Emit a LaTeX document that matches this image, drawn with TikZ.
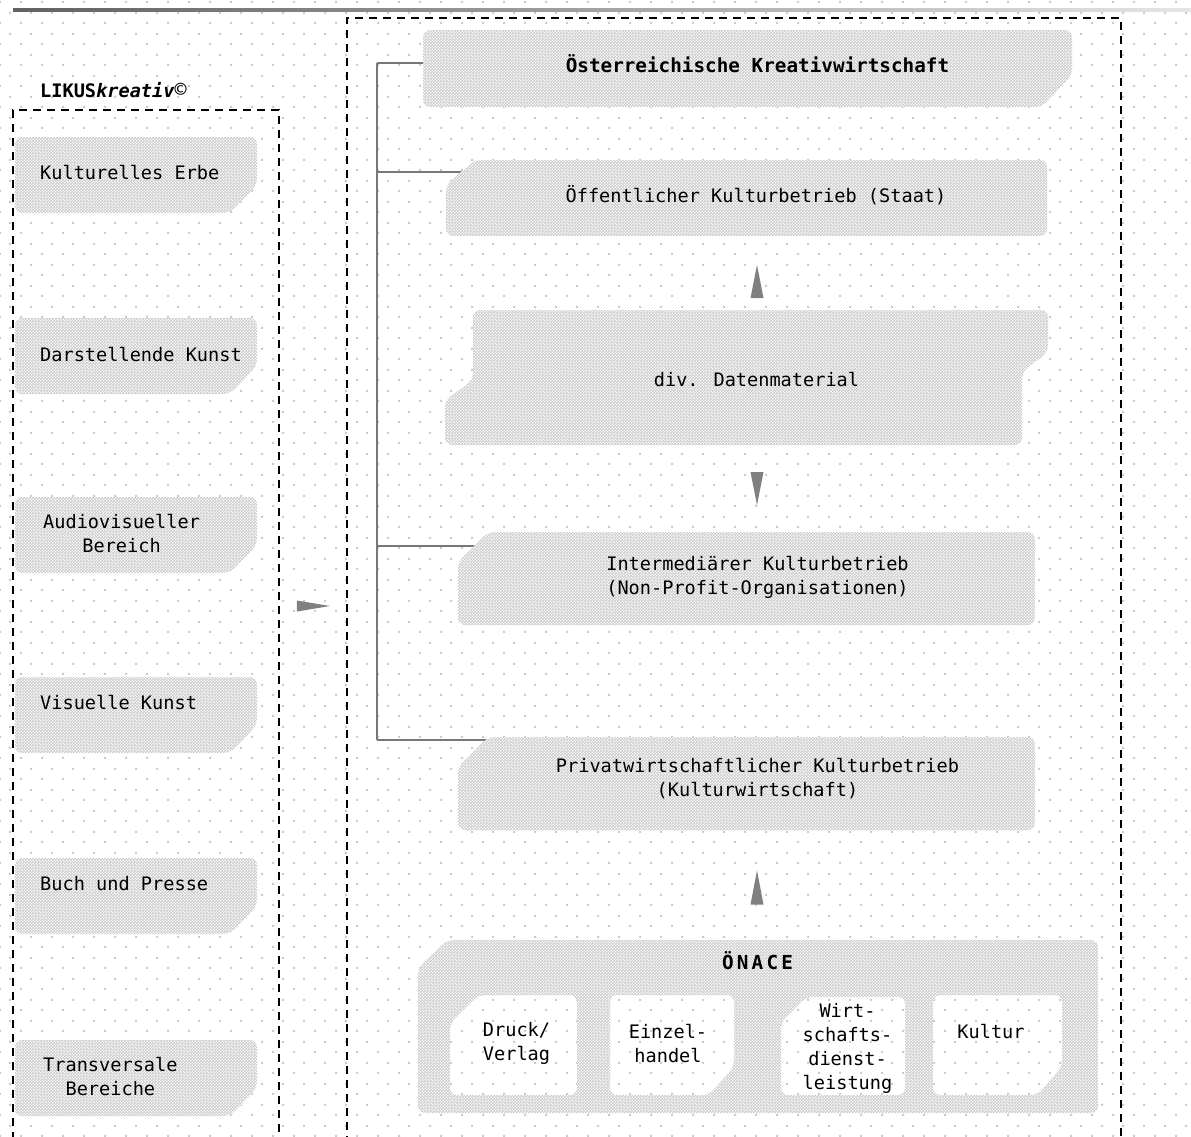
\documentclass[tikz,border=0pt]{standalone}
\usepackage{fontspec}
\setmainfont{DejaVu Sans Mono}[BoldFont={DejaVu Sans Mono Bold},ItalicFont={DejaVu Sans Mono Oblique},BoldItalicFont={DejaVu Sans Mono Bold Oblique}]
\usetikzlibrary{patterns,calc}
\pgfdeclarepatternformonly{bgdots}{\pgfqpoint{0pt}{0pt}}{\pgfqpoint{21pt}{21.2pt}}{\pgfqpoint{21pt}{21.2pt}}{%
 \pgfpathrectangle{\pgfqpoint{0pt}{0pt}}{\pgfqpoint{2.1pt}{2.1pt}}%
 \pgfpathrectangle{\pgfqpoint{10.5pt}{10.6pt}}{\pgfqpoint{2.1pt}{2.1pt}}%
 \pgfusepath{fill}}
\pgfdeclarepatternformonly{stipple}{\pgfqpoint{0pt}{0pt}}{\pgfqpoint{3.4pt}{3.4pt}}{\pgfqpoint{3.4pt}{3.4pt}}{%
 \pgfpathrectangle{\pgfqpoint{0pt}{0pt}}{\pgfqpoint{1.8pt}{1.8pt}}%
 \pgfpathrectangle{\pgfqpoint{1.7pt}{1.7pt}}{\pgfqpoint{1.7pt}{1.7pt}}%
 \pgfusepath{fill}}
\definecolor{dotc}{gray}{0.80}
\definecolor{stipc}{gray}{0.80}
\definecolor{arrc}{gray}{0.50}
\definecolor{linec}{gray}{0.47}
\begin{document}
\begin{tikzpicture}[x=1pt,y=-1pt,font=\fontsize{18.6}{24}\selectfont,
  boxn/.style={rectangle,inner sep=0pt,outer sep=0pt,draw=none},
  stip/.style={fill=white,postaction={pattern=stipple,pattern color=stipc},rounded corners=7pt},
  dashbox/.style={rectangle,draw=black,line width=1.3pt,dash pattern=on 8pt off 6pt,inner sep=0pt,outer sep=0pt},
  lbl/.style={inner sep=0pt,align=center},
  hdr/.style={inner sep=0pt,align=center,font=\fontsize{19.3}{24}\selectfont\bfseries},
  tick/.style={draw=linec,line width=1.8pt},
  trunk/.style={draw=linec,line width=2.6pt},
  arr/.style={fill=arrc}]
\useasboundingbox (0,0) rectangle (1191,1136);
\fill[white] (0,0) rectangle (1191,1136);
\fill[pattern=bgdots,pattern color=dotc] (0,0) rectangle (1191,1136);
% top line
\shade[left color=black!62,right color=black!10] (13,8.6) rectangle (1191,11.6);
% invisible box nodes
\foreach \n/\y in {L1/175,L2/356,L3/535,L4/715,L5/896,L6/1078}
  \node[boxn,minimum width=242,minimum height=76] (\n) at (136,\y) {};
\node[boxn,minimum width=649,minimum height=77] (T) at (747.5,68.5) {};
\node[boxn,minimum width=601,minimum height=76] (O) at (746.5,198) {};
\node[boxn,minimum width=603,minimum height=135] (D) at (746.5,377.5) {};
\node[boxn,minimum width=577,minimum height=93] (I) at (746.5,578.5) {};
\node[boxn,minimum width=577,minimum height=93] (P) at (746.5,783.5) {};
\node[boxn,minimum width=680,minimum height=173] (N) at (758,1026.5) {};
\node[boxn,minimum width=127,minimum height=100] (N1) at (513.5,1045) {};
\node[boxn,minimum width=124,minimum height=100] (N2) at (672,1045) {};
\node[boxn,minimum width=124,minimum height=98] (N3) at (843,1046) {};
\node[boxn,minimum width=129,minimum height=100] (N4) at (997.5,1045) {};
% dashed group boxes
\node[dashbox,minimum width=266,minimum height=1050] (LB) at (146,635) {};
\node[dashbox,minimum width=774,minimum height=1142] (RB) at (734,589) {};
% trunk and ticks
\coordinate (k1) at (377,63);
\coordinate (k2) at (377,172);
\coordinate (k3) at (377,546);
\coordinate (k4) at (377,740);
\draw[trunk] (k1) -- (k4);
\draw[tick] (k1) -- (k1 -| T.west);
\draw[tick] (k2) -- (k2 -| O.west) -- ++(24,0);
\draw[tick] (k3) -- (k3 -| I.west) -- ++(24,0);
\draw[tick] (k4) -- (k4 -| P.west) -- ++(30,0);
% shaded shapes
\foreach \n in {L1,L2,L3,L4,L5,L6}
  \fill[stip] (\n.north west) -- (\n.north east) -- ($(\n.south east)+(0,-28)$) -- ($(\n.south east)+(-27,0)$) -- (\n.south west) -- cycle;
\fill[stip] (T.north west) -- (T.north east) -- ($(T.south east)+(0,-32)$) -- ($(T.south east)+(-30,0)$) -- (T.south west) -- cycle;
\fill[stip] (O.south west) -- ($(O.north west)+(0,25)$) -- ($(O.north west)+(29,0)$) -- (O.north east) -- (O.south east) -- cycle;
\fill[stip] ($(D.north west)+(28,0)$) -- (D.north east) -- ($(D.north east)+(0,42)$) -- ($(D.north east)+(-26,62)$) -- ($(D.south east)+(-26,0)$) -- (D.south west) -- ($(D.south west)+(0,-45)$) -- ($(D.north west)+(28,70)$) -- cycle;
\fill[stip] (I.south west) -- ($(I.north west)+(0,30)$) -- ($(I.north west)+(30,0)$) -- (I.north east) -- (I.south east) -- cycle;
\fill[stip] (P.south west) -- ($(P.north west)+(0,30)$) -- ($(P.north west)+(30,0)$) -- (P.north east) -- (P.south east) -- cycle;
\fill[stip,even odd rule]
  (N.south west) -- ($(N.north west)+(0,28)$) -- ($(N.north west)+(29,0)$) -- (N.north east) -- (N.south east) -- cycle
  (N1.south west) -- ($(N1.north west)+(0,28)$) -- ($(N1.north west)+(28,0)$) -- (N1.north east) -- (N1.south east) -- cycle
  (N2.north west) -- (N2.north east) -- ($(N2.south east)+(0,-28)$) -- ($(N2.south east)+(-25,0)$) -- (N2.south west) -- cycle
  (N3.south west) -- ($(N3.north west)+(0,25)$) -- ($(N3.north west)+(25,0)$) -- (N3.north east) -- (N3.south east) -- cycle
  (N4.north west) -- (N4.north east) -- ($(N4.south east)+(0,-28)$) -- ($(N4.south east)+(-25,0)$) -- (N4.south west) -- cycle;
% texts
\node[lbl,anchor=west] (tLik) at (40,90) {\bfseries LIKUS\textit{kreativ}\raisebox{0.5pt}{\fontsize{20}{20}\selectfont\mdseries\upshape ©}};
\node[lbl,anchor=west] (tL1) at (40,173) {Kulturelles Erbe};
\node[lbl,anchor=west] (tL2) at (40,355) {Darstellende Kunst};
\node[lbl,anchor=west] (tL3) at (43,534) {Audiovisueller\\Bereich};
\node[lbl,anchor=west] (tL4) at (40,703) {Visuelle Kunst};
\node[lbl,anchor=west] (tL5) at (40,884) {Buch und Presse};
\node[lbl,anchor=west] (tL6) at (43,1076) {Transversale\\Bereiche};
\node[hdr] (tT) at (757.5,64) {Österreichische Kreativwirtschaft};
\node[lbl] (tO) at (756,195) {Öffentlicher Kulturbetrieb (Staat)};
\node[lbl] (tD) at (756.5,380) {div. Datenmaterial};
\node[lbl] (tI) at (757.5,577) {Intermediärer Kulturbetrieb\\(Non-Profit-Organisationen)};
\node[lbl] (tP) at (757.5,778.5) {Privatwirtschaftlicher Kulturbetrieb\\(Kulturwirtschaft)};
\node[hdr] (tN) at (757.5,961) {Ö\,N\,A\,C\,E};
\node[lbl] (tN1) at (516.5,1043) {Druck/\\Verlag};
\node[lbl] (tN2) at (668,1043) {Einzel-\\handel};
\node[lbl] (tN3) at (847.5,1048.5) {Wirt-\\schafts-\\dienst-\\leistung};
\node[lbl] (tN4) at (991,1031) {Kultur};
% arrows
\coordinate (AX) at (757,0);
\coordinate (AY) at (0,606);
\path (LB.east |- AY) -- (RB.west |- AY) coordinate[pos=0.507] (a0);
\fill[arr] ($(a0)+(16.5,0)$) -- ($(a0)+(-16.5,-5.5)$) -- ($(a0)+(-16.5,5.5)$) -- cycle;
\path (D.north -| AX) -- (O.south -| AX) coordinate[pos=0.385] (a1);
\fill[arr] ($(a1)+(0,-16.5)$) -- ($(a1)+(-6.5,16.5)$) -- ($(a1)+(6.5,16.5)$) -- cycle;
\path (D.south -| AX) -- (I.north -| AX) coordinate[pos=0.5] (a2);
\fill[arr] ($(a2)+(0,16.5)$) -- ($(a2)+(-6.5,-16.5)$) -- ($(a2)+(6.5,-16.5)$) -- cycle;
\path (N.north -| AX) -- (P.south -| AX) coordinate[pos=0.477] (a3);
\fill[arr] ($(a3)+(0,-17)$) -- ($(a3)+(-6.5,17)$) -- ($(a3)+(6.5,17)$) -- cycle;
\end{tikzpicture}
\end{document}
